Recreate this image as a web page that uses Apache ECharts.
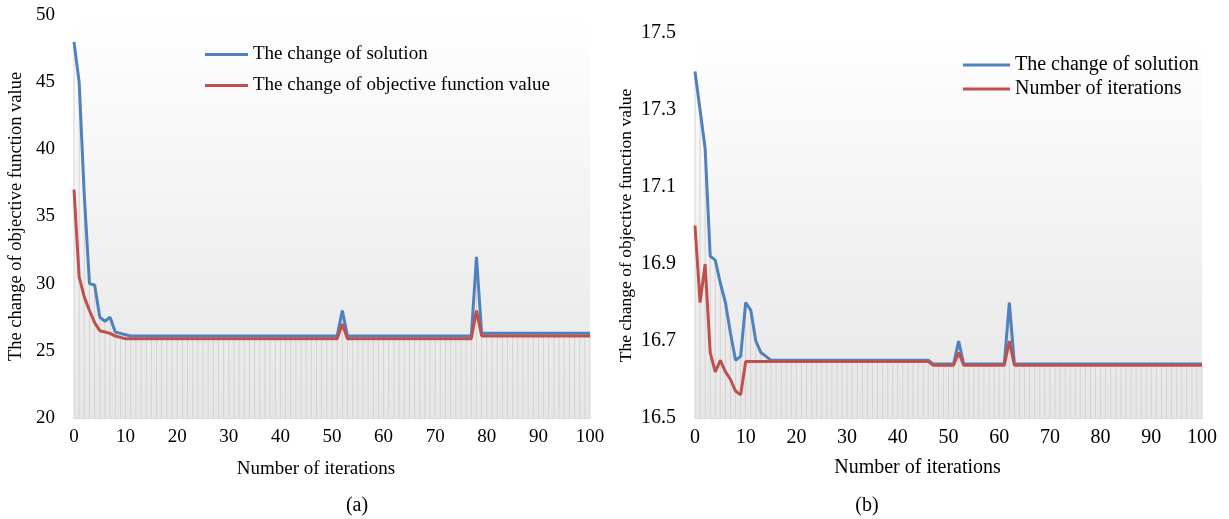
<!DOCTYPE html>
<html>
<head>
<meta charset="utf-8">
<script src="https://cdn.jsdelivr.net/npm/echarts@6/dist/echarts.min.js"></script>
<style>
  html, body { margin: 0; padding: 0; background: #fff; }
  #chart { width: 1229px; height: 519px; }
</style>
</head>
<body>
<div id="chart"></div>
<script>
// iterations 0..100
const iterations = [
  0, 1, 2, 3, 4, 5, 6, 7, 8, 9,
  10, 11, 12, 13, 14, 15, 16, 17, 18, 19,
  20, 21, 22, 23, 24, 25, 26, 27, 28, 29,
  30, 31, 32, 33, 34, 35, 36, 37, 38, 39,
  40, 41, 42, 43, 44, 45, 46, 47, 48, 49,
  50, 51, 52, 53, 54, 55, 56, 57, 58, 59,
  60, 61, 62, 63, 64, 65, 66, 67, 68, 69,
  70, 71, 72, 73, 74, 75, 76, 77, 78, 79,
  80, 81, 82, 83, 84, 85, 86, 87, 88, 89,
  90, 91, 92, 93, 94, 95, 96, 97, 98, 99,
  100
]

// panel (a)
const solutionA = [
  48, 45, 36.5, 30, 29.9, 27.5, 27.2, 27.5, 26.4, 26.3,
  26.2, 26.1, 26.1, 26.1, 26.1, 26.1, 26.1, 26.1, 26.1, 26.1,
  26.1, 26.1, 26.1, 26.1, 26.1, 26.1, 26.1, 26.1, 26.1, 26.1,
  26.1, 26.1, 26.1, 26.1, 26.1, 26.1, 26.1, 26.1, 26.1, 26.1,
  26.1, 26.1, 26.1, 26.1, 26.1, 26.1, 26.1, 26.1, 26.1, 26.1,
  26.1, 26.1, 28, 26.1, 26.1, 26.1, 26.1, 26.1, 26.1, 26.1,
  26.1, 26.1, 26.1, 26.1, 26.1, 26.1, 26.1, 26.1, 26.1, 26.1,
  26.1, 26.1, 26.1, 26.1, 26.1, 26.1, 26.1, 26.1, 32, 26.3,
  26.3, 26.3, 26.3, 26.3, 26.3, 26.3, 26.3, 26.3, 26.3, 26.3,
  26.3, 26.3, 26.3, 26.3, 26.3, 26.3, 26.3, 26.3, 26.3, 26.3,
  26.3
]
const objectiveA = [
  37, 30.5, 29, 28, 27.1, 26.5, 26.4, 26.3, 26.1, 26.0,
  25.9, 25.9, 25.9, 25.9, 25.9, 25.9, 25.9, 25.9, 25.9, 25.9,
  25.9, 25.9, 25.9, 25.9, 25.9, 25.9, 25.9, 25.9, 25.9, 25.9,
  25.9, 25.9, 25.9, 25.9, 25.9, 25.9, 25.9, 25.9, 25.9, 25.9,
  25.9, 25.9, 25.9, 25.9, 25.9, 25.9, 25.9, 25.9, 25.9, 25.9,
  25.9, 25.9, 27, 25.9, 25.9, 25.9, 25.9, 25.9, 25.9, 25.9,
  25.9, 25.9, 25.9, 25.9, 25.9, 25.9, 25.9, 25.9, 25.9, 25.9,
  25.9, 25.9, 25.9, 25.9, 25.9, 25.9, 25.9, 25.9, 28, 26.1,
  26.1, 26.1, 26.1, 26.1, 26.1, 26.1, 26.1, 26.1, 26.1, 26.1,
  26.1, 26.1, 26.1, 26.1, 26.1, 26.1, 26.1, 26.1, 26.1, 26.1,
  26.1
]

// panel (b)
const solutionB = [
  17.4, 17.3, 17.2, 16.92, 16.91, 16.85, 16.8, 16.72, 16.65, 16.66,
  16.8, 16.78, 16.7, 16.67, 16.66, 16.65, 16.65, 16.65, 16.65, 16.65,
  16.65, 16.65, 16.65, 16.65, 16.65, 16.65, 16.65, 16.65, 16.65, 16.65,
  16.65, 16.65, 16.65, 16.65, 16.65, 16.65, 16.65, 16.65, 16.65, 16.65,
  16.65, 16.65, 16.65, 16.65, 16.65, 16.65, 16.65, 16.64, 16.64, 16.64,
  16.64, 16.64, 16.7, 16.64, 16.64, 16.64, 16.64, 16.64, 16.64, 16.64,
  16.64, 16.64, 16.8, 16.64, 16.64, 16.64, 16.64, 16.64, 16.64, 16.64,
  16.64, 16.64, 16.64, 16.64, 16.64, 16.64, 16.64, 16.64, 16.64, 16.64,
  16.64, 16.64, 16.64, 16.64, 16.64, 16.64, 16.64, 16.64, 16.64, 16.64,
  16.64, 16.64, 16.64, 16.64, 16.64, 16.64, 16.64, 16.64, 16.64, 16.64,
  16.64
]
const objectiveB = [
  17.0, 16.8, 16.9, 16.67, 16.62, 16.65, 16.62, 16.6, 16.57, 16.56,
  16.647, 16.647, 16.647, 16.647, 16.647, 16.647, 16.647, 16.647, 16.647, 16.647,
  16.647, 16.647, 16.647, 16.647, 16.647, 16.647, 16.647, 16.647, 16.647, 16.647,
  16.647, 16.647, 16.647, 16.647, 16.647, 16.647, 16.647, 16.647, 16.647, 16.647,
  16.647, 16.647, 16.647, 16.647, 16.647, 16.647, 16.647, 16.637, 16.637, 16.637,
  16.637, 16.637, 16.67, 16.637, 16.637, 16.637, 16.637, 16.637, 16.637, 16.637,
  16.637, 16.637, 16.7, 16.637, 16.637, 16.637, 16.637, 16.637, 16.637, 16.637,
  16.637, 16.637, 16.637, 16.637, 16.637, 16.637, 16.637, 16.637, 16.637, 16.637,
  16.637, 16.637, 16.637, 16.637, 16.637, 16.637, 16.637, 16.637, 16.637, 16.637,
  16.637, 16.637, 16.637, 16.637, 16.637, 16.637, 16.637, 16.637, 16.637, 16.637,
  16.637
]

const namesA = ['The change of solution', 'The change of objective function value']
const namesB = ['The change of solution', 'Number of iterations']
const xName = 'Number of iterations'
const yName = 'The change of objective function value'
const blue = '#4f81bd', red = '#c0504d'
const font = "'Liberation Serif', 'Times New Roman', serif"

const zip = ys => iterations.map((x, i) => [x, ys[i]])
const dropData = (a, b) => iterations.map((x, i) => [x, Math.max(a[i], b[i])])

const plotBg = () => new echarts.graphic.LinearGradient(0, 0, 0, 1, [
  { offset: 0, color: '#ffffff' },
  { offset: 1, color: '#e6e6e6' },
])

// drop lines from the highest point down to the axis
const dropSeries = (idx, a, b) => ({
  type: 'custom',
  xAxisIndex: idx,
  yAxisIndex: idx,
  silent: true,
  z: 1,
  renderItem(params, api) {
    const top = api.coord([api.value(0), api.value(1)])
    const base = params.coordSys.y + params.coordSys.height
    return {
      type: 'line',
      shape: { x1: top[0], y1: top[1], x2: top[0], y2: base },
      style: { stroke: '#d3d3d3', lineWidth: 1 },
    }
  },
  data: dropData(a, b),
})

const lineSeries = (idx, name, color, ys) => ({
  name,
  type: 'line',
  xAxisIndex: idx,
  yAxisIndex: idx,
  showSymbol: false,
  symbol: 'none',
  z: 3,
  lineStyle: { color, width: 3 },
  itemStyle: { color },
  data: zip(ys),
})

const xAxisCfg = (idx, fs, gap, shift) => ({
  type: 'value',
  gridIndex: idx,
  min: 0,
  max: 100,
  interval: 10,
  name: xName,
  nameLocation: 'middle',
  nameGap: gap,
  nameTextStyle: { fontFamily: font, fontSize: fs, color: '#000', padding: [0, shift, 0, 0] },
  axisLine: { show: true, lineStyle: { color: '#d9d9d9', width: 1 } },
  axisTick: { show: false },
  splitLine: { show: false },
  axisLabel: { fontFamily: font, fontSize: fs, color: '#000', margin: 10 },
})

const chart = echarts.init(document.getElementById('chart'), null, { renderer: 'canvas' })

chart.setOption({
  animation: false,
  backgroundColor: '#fff',
  textStyle: { fontFamily: font },
  title: [
    { text: '(a)', left: 352, top: 491, textAlign: 'center', textStyle: { fontFamily: font, fontSize: 20, fontWeight: 'normal', color: '#000' } },
    { text: '(b)', left: 862, top: 491, textAlign: 'center', textStyle: { fontFamily: font, fontSize: 20, fontWeight: 'normal', color: '#000' } },
  ],
  legend: [
    {
      data: namesA,
      orient: 'vertical',
      left: 200,
      top: 40,
      itemWidth: 43,
      itemHeight: 3,
      itemGap: 12,
      icon: 'rect',
      textStyle: { fontFamily: font, fontSize: 19, color: '#000' },
    },
    {
      data: namesB,
      orient: 'vertical',
      left: 958,
      top: 50,
      itemWidth: 47,
      itemHeight: 3,
      itemGap: 4,
      icon: 'rect',
      textStyle: { fontFamily: font, fontSize: 20, color: '#000' },
    },
  ],
  grid: [
    { left: 74, right: 639, top: 15, bottom: 101, show: true, borderWidth: 0, backgroundColor: plotBg() },
    { left: 695, right: 27, top: 33, bottom: 101, show: true, borderWidth: 0, backgroundColor: plotBg() },
  ],
  xAxis: [xAxisCfg(0, 19, 42, 32), xAxisCfg(1, 20, 40, 62)],
  yAxis: [
    {
      type: 'value',
      gridIndex: 0,
      min: 20,
      max: 50,
      interval: 5,
      name: yName,
      nameLocation: 'middle',
      nameGap: 48,
      nameTextStyle: { fontFamily: font, fontSize: 18.5, color: '#000' },
      axisLine: { show: false },
      axisTick: { show: false },
      splitLine: { show: false },
      axisLabel: { fontFamily: font, fontSize: 19, color: '#000', margin: 19 },
    },
    {
      type: 'value',
      gridIndex: 1,
      min: 16.5,
      max: 17.5,
      interval: 0.1,
      name: yName,
      nameLocation: 'middle',
      nameGap: 60,
      nameTextStyle: { fontFamily: font, fontSize: 17.5, color: '#000' },
      axisLine: { show: false },
      axisTick: { show: false },
      splitLine: { show: false },
      axisLabel: {
        fontFamily: font, fontSize: 20, color: '#000', margin: 19,
        formatter: v => (Math.round(v * 10) % 2 === 1 ? v.toFixed(1) : ''),
      },
    },
  ],
  series: [
    dropSeries(0, solutionA, objectiveA),
    lineSeries(0, namesA[0], blue, solutionA),
    lineSeries(0, namesA[1], red, objectiveA),
    dropSeries(1, solutionB, objectiveB),
    lineSeries(1, namesB[0], blue, solutionB),
    lineSeries(1, namesB[1], red, objectiveB),
  ],
})
</script>
</body>
</html>
